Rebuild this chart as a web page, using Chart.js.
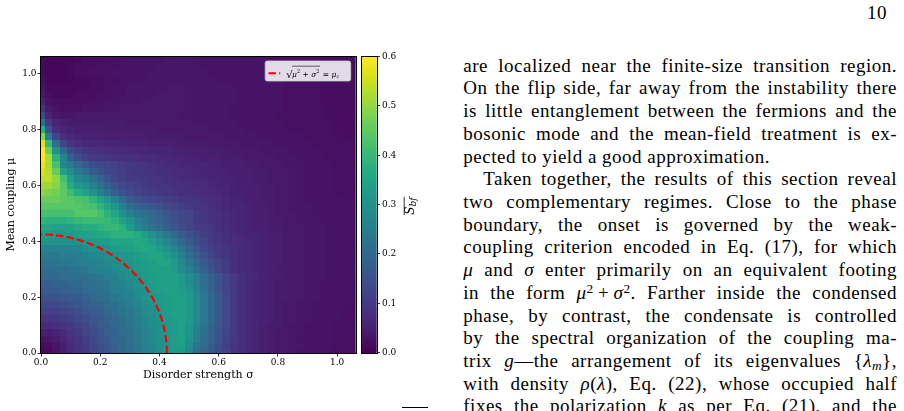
<!DOCTYPE html>
<html>
<head>
<meta charset="utf-8">
<script src="https://cdn.jsdelivr.net/npm/chart.js@4.4.1/dist/chart.umd.min.js"></script>
<style>
html,body{margin:0;padding:0;background:#fff;width:904px;height:411px;overflow:hidden;position:relative}
#heat{position:absolute;left:0;top:0}
#cbar{position:absolute;left:355px;top:0}
.page{position:absolute;left:463.3px;width:433.7px;top:54.7px;font-family:"Liberation Serif",serif;font-size:19px;letter-spacing:0.5px;line-height:22.72px;color:#000}
.page div{text-align:justify;text-align-last:justify;white-space:nowrap}
.page div.last{text-align-last:left}
.page div.ind{padding-left:20px}
.page sup{font-size:0.7em;vertical-align:0.45em;line-height:0}
.page sub{font-size:0.7em;vertical-align:-0.25em;line-height:0}
.pnum{position:absolute;left:867px;top:2.2px;font-family:"Liberation Serif",serif;font-size:19px;letter-spacing:0.5px;line-height:22.72px}
.rule{position:absolute;left:402px;top:407px;width:26px;height:1px;background:#000}
</style>
</head>
<body>
<canvas id="heat" width="360" height="411"></canvas>
<canvas id="cbar" width="75" height="411"></canvas>
<div class="pnum">10</div>
<div class="page" id="page">
<div>are localized near the finite-size transition region.</div>
<div>On the flip side, far away from the instability there</div>
<div>is little entanglement between the fermions and the</div>
<div>bosonic mode and the mean-field treatment is ex-</div>
<div class="last">pected to yield a good approximation.</div>
<div class="ind">Taken together, the results of this section reveal</div>
<div>two complementary regimes. Close to the phase</div>
<div>boundary, the onset is governed by the weak-</div>
<div>coupling criterion encoded in Eq. (17), for which</div>
<div><i>μ</i> and <i>σ</i> enter primarily on an equivalent footing</div>
<div>in the form <i>μ</i><sup>2</sup>&#8201;+&#8201;<i>σ</i><sup>2</sup>. Farther inside the condensed</div>
<div>phase, by contrast, the condensate is controlled</div>
<div>by the spectral organization of the coupling ma-</div>
<div>trix <i>g</i>—the arrangement of its eigenvalues {<i>λ</i><sub><i>m</i></sub>},</div>
<div>with density <i>ρ</i>(<i>λ</i>), Eq. (22), whose occupied half</div>
<div>fixes the polarization <i>k</i> as per Eq. (21), and the</div>
</div>
<div class="rule"></div>
<script>
// shrink the body text only if some line would not fit the column
(function fitText(){
  const page = document.getElementById('page');
  const lines = Array.from(page.children);
  const tooWide = () => lines.some(d => d.scrollWidth > d.clientWidth + 0.5);
  let ls = 0.5, size = 19;
  while (tooWide() && ls > 0) { ls -= 0.05; page.style.letterSpacing = ls + 'px'; }
  while (tooWide() && size > 12) { size -= 0.25; page.style.fontSize = size + 'px'; }
})();

// ---------------- data ----------------
const sigmaValues = [0,.025,.05,.075,.1,.125,.15,.175,.2,.225,.25,.275,.3,.325,.35,.375,.4,.425,.45,.475,.5,.525,.55,.575,.6,.625,.65,.675,.7,.725,.75,.775,.8,.825,.85,.875,.9,.925,.95,.975,1,1.025,1.05];
const muValues = [0,.025,.05,.075,.1,.125,.15,.175,.2,.225,.25,.275,.3,.325,.35,.375,.4,.425,.45,.475,.5,.525,.55,.575,.6,.625,.65,.675,.7,.725,.75,.775,.8,.825,.85,.875,.9,.925,.95,.975,1,1.025,1.05];
// mean boson-fermion entanglement entropy, one row per mu value (columns follow sigmaValues)
const entropyRows = [
[.01,.015,.03,.05,.07,.08,.10,.12,.14,.16,.18,.19,.21,.23,.25,.27,.29,.31,.32,.32,.27,.22,.19,.17,.14,.12,.09,.08,.07,.06,.05,.045,.04,.04,.035,.03,.03,.03,.03,.025,.025,.025,.025],
[.015,.02,.035,.05,.07,.085,.10,.12,.14,.16,.18,.20,.21,.23,.25,.27,.29,.31,.33,.33,.28,.23,.20,.17,.14,.11,.09,.08,.07,.06,.05,.045,.04,.04,.035,.035,.03,.03,.03,.03,.025,.025,.025],
[.03,.035,.045,.06,.08,.09,.11,.13,.15,.17,.19,.20,.22,.24,.26,.28,.30,.31,.33,.34,.30,.25,.21,.18,.15,.12,.10,.08,.07,.06,.05,.045,.04,.04,.035,.03,.03,.03,.03,.03,.025,.025,.025],
[.05,.05,.06,.07,.09,.10,.12,.14,.16,.18,.19,.21,.22,.24,.26,.28,.30,.32,.33,.34,.31,.26,.22,.18,.15,.12,.10,.08,.07,.06,.05,.045,.04,.04,.035,.035,.03,.03,.03,.03,.025,.025,.025],
[.07,.07,.08,.09,.10,.11,.13,.15,.17,.18,.20,.21,.23,.25,.27,.29,.30,.32,.33,.34,.31,.27,.23,.19,.16,.13,.10,.08,.07,.06,.05,.045,.045,.04,.035,.035,.03,.03,.03,.03,.025,.025,.025],
[.09,.09,.095,.10,.11,.13,.14,.16,.17,.19,.20,.22,.24,.25,.27,.29,.31,.32,.33,.34,.32,.28,.24,.20,.16,.13,.10,.08,.07,.06,.055,.05,.045,.04,.04,.035,.035,.03,.03,.03,.03,.025,.025],
[.11,.11,.115,.12,.13,.14,.16,.17,.18,.20,.22,.23,.24,.26,.28,.30,.31,.33,.34,.34,.32,.28,.24,.20,.16,.13,.10,.08,.07,.06,.055,.05,.045,.04,.04,.035,.035,.03,.03,.03,.03,.025,.025],
[.13,.13,.13,.14,.15,.16,.17,.18,.19,.21,.22,.24,.25,.27,.29,.30,.32,.33,.34,.34,.32,.28,.24,.20,.16,.13,.10,.08,.07,.06,.055,.05,.045,.04,.04,.035,.035,.03,.03,.03,.03,.03,.025],
[.15,.15,.15,.16,.17,.17,.18,.20,.21,.22,.24,.25,.26,.28,.30,.31,.32,.33,.34,.34,.32,.28,.24,.20,.16,.13,.10,.08,.07,.06,.055,.05,.045,.045,.04,.04,.035,.035,.03,.03,.03,.03,.03],
[.17,.17,.17,.18,.18,.19,.20,.21,.22,.23,.25,.26,.27,.29,.30,.32,.33,.34,.34,.33,.31,.27,.23,.19,.15,.12,.10,.08,.07,.06,.055,.05,.045,.045,.04,.04,.035,.035,.03,.03,.03,.03,.03],
[.18,.18,.19,.19,.20,.20,.21,.22,.23,.24,.26,.27,.28,.30,.31,.33,.34,.34,.34,.32,.29,.25,.21,.18,.15,.12,.10,.08,.07,.06,.055,.05,.045,.045,.04,.04,.035,.035,.03,.03,.03,.03,.03],
[.20,.20,.20,.21,.21,.22,.22,.23,.24,.25,.26,.28,.29,.30,.32,.33,.34,.34,.34,.32,.29,.25,.21,.18,.15,.12,.10,.08,.07,.065,.055,.05,.05,.045,.04,.04,.035,.035,.035,.03,.03,.03,.03],
[.21,.21,.22,.22,.23,.23,.24,.25,.26,.27,.28,.29,.30,.32,.33,.34,.34,.34,.32,.29,.26,.22,.18,.15,.12,.10,.08,.07,.065,.06,.055,.05,.045,.045,.04,.04,.035,.035,.035,.03,.03,.03,.03],
[.23,.23,.23,.24,.24,.25,.25,.26,.27,.28,.29,.30,.31,.32,.33,.34,.35,.35,.32,.28,.24,.20,.17,.14,.12,.10,.08,.07,.065,.06,.055,.05,.05,.045,.04,.04,.035,.035,.035,.03,.03,.03,.03],
[.24,.24,.24,.25,.25,.25,.26,.27,.28,.29,.30,.31,.32,.33,.34,.35,.35,.33,.30,.26,.21,.18,.15,.12,.10,.09,.08,.07,.065,.06,.055,.05,.05,.045,.04,.04,.035,.035,.035,.03,.03,.03,.03],
[.26,.26,.26,.26,.27,.27,.29,.30,.30,.31,.33,.34,.34,.35,.36,.35,.33,.30,.27,.23,.19,.16,.13,.11,.10,.09,.08,.07,.065,.06,.055,.05,.05,.045,.04,.04,.035,.035,.035,.03,.03,.03,.03],
[.30,.30,.30,.30,.30,.30,.32,.32,.33,.33,.35,.35,.35,.36,.35,.33,.30,.27,.24,.20,.17,.14,.12,.10,.09,.08,.075,.07,.065,.06,.055,.05,.05,.045,.04,.04,.035,.035,.035,.03,.03,.03,.03],
[.33,.33,.32,.32,.33,.34,.34,.35,.36,.37,.38,.38,.38,.37,.33,.30,.27,.24,.20,.17,.15,.13,.11,.10,.09,.08,.07,.065,.06,.06,.055,.05,.05,.045,.04,.04,.035,.035,.035,.03,.03,.03,.03],
[.36,.35,.34,.34,.34,.36,.37,.37,.38,.40,.40,.38,.33,.28,.25,.23,.21,.18,.16,.14,.12,.11,.10,.09,.08,.07,.065,.06,.055,.05,.05,.045,.045,.04,.04,.04,.035,.035,.035,.03,.03,.03,.03],
[.39,.38,.38,.38,.39,.40,.41,.41,.41,.40,.38,.34,.30,.26,.24,.21,.19,.17,.15,.13,.12,.10,.09,.08,.075,.07,.065,.06,.055,.05,.05,.045,.045,.04,.04,.035,.035,.035,.03,.03,.03,.03,.03],
[.42,.42,.42,.42,.42,.44,.44,.44,.42,.38,.35,.30,.26,.23,.22,.20,.18,.16,.14,.13,.12,.10,.09,.08,.075,.07,.065,.06,.055,.05,.05,.045,.04,.04,.04,.035,.035,.03,.03,.03,.03,.03,.03],
[.44,.44,.44,.44,.44,.44,.43,.42,.39,.35,.31,.26,.22,.19,.18,.16,.15,.13,.12,.11,.10,.09,.085,.08,.07,.065,.06,.06,.055,.05,.05,.045,.04,.04,.035,.035,.035,.03,.03,.03,.03,.03,.03],
[.46,.46,.46,.45,.44,.43,.42,.39,.35,.31,.26,.21,.17,.15,.14,.13,.12,.11,.10,.095,.09,.085,.08,.075,.07,.065,.06,.055,.05,.05,.045,.045,.04,.04,.035,.035,.03,.03,.03,.03,.03,.03,.025],
[.49,.48,.47,.45,.41,.37,.34,.30,.26,.22,.18,.15,.13,.12,.11,.10,.095,.09,.085,.08,.08,.075,.07,.07,.065,.06,.055,.055,.05,.05,.045,.045,.04,.04,.035,.035,.03,.03,.03,.03,.025,.025,.025],
[.51,.51,.49,.44,.37,.32,.30,.26,.22,.18,.15,.13,.12,.11,.10,.095,.09,.085,.08,.075,.075,.07,.07,.065,.06,.06,.055,.05,.05,.05,.045,.045,.04,.04,.035,.035,.03,.03,.03,.03,.025,.025,.025],
[.54,.54,.50,.42,.34,.28,.26,.22,.19,.15,.12,.11,.10,.10,.095,.09,.085,.08,.075,.07,.07,.065,.065,.06,.06,.055,.055,.05,.05,.045,.045,.04,.04,.04,.035,.035,.03,.03,.03,.03,.025,.025,.025],
[.56,.53,.46,.34,.29,.24,.21,.17,.15,.13,.12,.11,.10,.095,.09,.085,.08,.075,.07,.07,.065,.065,.06,.06,.055,.055,.05,.05,.05,.045,.045,.04,.04,.04,.035,.035,.03,.03,.03,.03,.025,.025,.025],
[.58,.52,.42,.27,.24,.20,.17,.14,.13,.12,.11,.10,.095,.09,.085,.08,.075,.07,.07,.065,.065,.06,.06,.055,.055,.05,.05,.05,.045,.045,.04,.04,.04,.035,.035,.035,.03,.03,.03,.03,.025,.025,.025],
[.60,.52,.38,.27,.18,.14,.11,.10,.095,.09,.085,.08,.08,.075,.07,.07,.065,.065,.06,.06,.055,.055,.05,.05,.05,.045,.045,.045,.04,.04,.04,.04,.035,.035,.035,.03,.03,.03,.03,.025,.025,.025,.025],
[.60,.47,.30,.20,.14,.11,.09,.085,.08,.075,.075,.07,.07,.065,.065,.06,.06,.06,.055,.055,.05,.05,.05,.045,.045,.045,.04,.04,.04,.04,.035,.035,.035,.035,.03,.03,.03,.03,.025,.025,.025,.025,.025],
[.57,.40,.22,.12,.09,.075,.07,.065,.065,.06,.06,.06,.055,.055,.055,.05,.05,.05,.05,.045,.045,.045,.045,.04,.04,.04,.04,.035,.035,.035,.035,.035,.03,.03,.03,.03,.03,.025,.025,.025,.025,.025,.025],
[.48,.25,.12,.08,.065,.06,.055,.055,.055,.05,.05,.05,.05,.05,.05,.045,.045,.045,.045,.045,.04,.04,.04,.04,.04,.035,.035,.035,.035,.035,.03,.03,.03,.03,.03,.03,.025,.025,.025,.025,.025,.02,.02],
[.37,.15,.075,.06,.055,.05,.05,.05,.05,.045,.045,.045,.045,.045,.045,.045,.04,.04,.04,.04,.04,.04,.04,.035,.035,.035,.035,.035,.03,.03,.03,.03,.03,.03,.025,.025,.025,.025,.025,.025,.02,.02,.02],
[.22,.10,.06,.05,.045,.045,.045,.045,.045,.045,.045,.045,.04,.04,.04,.04,.04,.04,.04,.04,.04,.035,.035,.035,.035,.035,.035,.03,.03,.03,.03,.03,.03,.025,.025,.025,.025,.025,.025,.025,.02,.02,.02],
[.13,.06,.04,.035,.035,.04,.04,.04,.04,.04,.04,.04,.04,.04,.04,.04,.04,.04,.04,.035,.035,.035,.035,.035,.035,.035,.03,.03,.03,.03,.03,.03,.025,.025,.025,.025,.025,.025,.025,.02,.02,.02,.02],
[.09,.04,.03,.025,.025,.025,.03,.03,.03,.035,.035,.04,.04,.04,.04,.04,.04,.04,.04,.04,.035,.035,.035,.035,.035,.035,.03,.03,.03,.03,.03,.03,.03,.025,.025,.025,.025,.025,.025,.02,.02,.02,.02],
[.06,.03,.02,.02,.02,.02,.025,.025,.025,.03,.03,.035,.035,.035,.04,.04,.04,.04,.04,.04,.035,.035,.035,.035,.035,.035,.035,.03,.03,.03,.03,.03,.03,.025,.025,.025,.025,.025,.02,.02,.02,.02,.02],
[.04,.02,.015,.015,.015,.02,.02,.02,.025,.025,.03,.03,.035,.035,.035,.035,.04,.04,.04,.04,.035,.035,.035,.035,.035,.035,.035,.03,.03,.03,.03,.03,.03,.025,.025,.025,.025,.025,.02,.02,.02,.02,.02],
[.03,.015,.015,.015,.015,.015,.015,.02,.02,.025,.03,.03,.035,.035,.035,.035,.035,.035,.04,.04,.035,.035,.035,.035,.035,.035,.03,.03,.03,.03,.03,.03,.03,.025,.025,.025,.025,.025,.02,.02,.02,.02,.02],
[.02,.01,.01,.01,.01,.015,.015,.02,.02,.025,.025,.03,.03,.03,.03,.035,.035,.035,.035,.035,.035,.035,.035,.035,.03,.03,.03,.03,.03,.03,.03,.03,.03,.025,.025,.025,.025,.025,.02,.02,.02,.02,.02],
[.015,.01,.01,.01,.015,.02,.02,.025,.025,.025,.03,.03,.03,.03,.03,.035,.035,.035,.035,.035,.035,.035,.035,.03,.03,.03,.03,.03,.03,.03,.03,.03,.03,.025,.025,.025,.025,.025,.02,.02,.02,.02,.02],
[.01,.01,.01,.01,.015,.02,.02,.02,.025,.025,.025,.03,.03,.03,.03,.03,.035,.035,.035,.035,.035,.035,.03,.03,.03,.03,.03,.03,.03,.03,.03,.03,.025,.025,.025,.025,.025,.025,.02,.02,.02,.02,.02],
[.01,.01,.01,.01,.01,.015,.02,.02,.02,.025,.025,.025,.03,.03,.03,.03,.03,.035,.035,.035,.035,.03,.03,.03,.03,.03,.03,.03,.03,.03,.03,.025,.025,.025,.025,.025,.025,.025,.02,.02,.02,.02,.02]
];
const axisTicks = [0, 0.2, 0.4, 0.6, 0.8, 1.0];
const colorbarTicks = [0, 0.1, 0.2, 0.3, 0.4, 0.5, 0.6];
const criticalCoupling = 0.425;           // mu_c of the dashed boundary
const circleAnglesDeg = Array.from({length: 91}, (_, k) => k);

// ---------------- colour map ----------------
const VIRIDIS = ['#440154','#48186a','#472d7b','#424086','#3b528b','#33638d','#2c728e','#26828e','#21918c','#1fa088','#28ae80','#3fbc73','#5ec962','#84d44b','#addc30','#d8e219','#fde725'];
const VRGB = VIRIDIS.map(h => [parseInt(h.slice(1,3),16), parseInt(h.slice(3,5),16), parseInt(h.slice(5,7),16)]);
function viridis(t){
  t = Math.min(1, Math.max(0, t));
  const s = t * (VRGB.length - 1);
  const i = Math.min(VRGB.length - 2, Math.floor(s));
  const f = s - i, a = VRGB[i], b = VRGB[i+1];
  return 'rgb(' + Math.round(a[0]+(b[0]-a[0])*f) + ',' + Math.round(a[1]+(b[1]-a[1])*f) + ',' + Math.round(a[2]+(b[2]-a[2])*f) + ')';
}
const cMin = colorbarTicks[0], cMax = colorbarTicks[colorbarTicks.length-1];

// ---------------- heat map ----------------
const cellPoints = [];
muValues.forEach((mu, i) => sigmaValues.forEach((s, j) => cellPoints.push({x: s, y: mu, v: entropyRows[i][j]})));
const circlePoints = circleAnglesDeg.map(a => ({
  x: criticalCoupling * Math.cos(a * Math.PI / 180),
  y: criticalCoupling * Math.sin(a * Math.PI / 180)
}));
const halfDx = (sigmaValues[1] - sigmaValues[0]) / 2;
const halfDy = (muValues[1] - muValues[0]) / 2;
const axisMax = sigmaValues[sigmaValues.length-1] + halfDx;

const SERIF = '"DejaVu Serif", serif';

const heatPlugin = {
  id: 'heatCells',
  beforeDatasetsDraw(chart) {
    const {ctx, chartArea: a, scales: {x, y}} = chart;
    ctx.save();
    ctx.beginPath(); ctx.rect(a.left, a.top, a.right - a.left, a.bottom - a.top); ctx.clip();
    chart.data.datasets[0].data.forEach(p => {
      const x0 = Math.round(x.getPixelForValue(p.x - halfDx));
      const x1 = Math.round(x.getPixelForValue(p.x + halfDx));
      const y0 = Math.round(y.getPixelForValue(p.y + halfDy));
      const y1 = Math.round(y.getPixelForValue(p.y - halfDy));
      ctx.fillStyle = viridis((p.v - cMin) / (cMax - cMin));
      ctx.fillRect(x0, y0, x1 - x0, y1 - y0);
    });
    ctx.restore();
  },
  afterDatasetsDraw(chart) {
    const {ctx, chartArea: a} = chart;
    ctx.save();
    // frame
    ctx.strokeStyle = '#000'; ctx.lineWidth = 1;
    ctx.strokeRect(Math.round(a.left) - 0.5, Math.round(a.top) - 0.5, Math.round(a.right) - Math.round(a.left) + 1, Math.round(a.bottom) - Math.round(a.top) + 1);
    // legend box
    const bx = a.right - 90.5, by = a.top + 4.5, bw = 85.5, bh = 20;
    ctx.beginPath();
    ctx.roundRect(bx, by, bw, bh, 2);
    ctx.fillStyle = 'rgba(255,255,255,0.85)'; ctx.fill();
    ctx.strokeStyle = '#cccccc'; ctx.lineWidth = 0.8; ctx.stroke();
    // handle
    const ly = by + 12.3;
    ctx.beginPath(); ctx.setLineDash([7.4, 3.2]);
    ctx.moveTo(bx + 3.3, ly); ctx.lineTo(bx + 15, ly);
    ctx.strokeStyle = '#ff0000'; ctx.lineWidth = 2; ctx.stroke();
    ctx.setLineDash([]);
    // label  sqrt(mu^2 + sigma^2) = mu_c
    ctx.fillStyle = '#000'; ctx.textBaseline = 'alphabetic';
    let tx = bx + 21; const base = by + 15.5;
    ctx.font = '10px "DejaVu Sans"'; ctx.fillText('√', tx, base + 1); tx += ctx.measureText('√').width - 0.5;
    const ovStart = tx;
    const runs = [
      ['italic 7.5px ' + SERIF, 'μ', 0], ['5px ' + SERIF, '2', -3.2], ['7.5px ' + SERIF, ' + ', 0],
      ['italic 7.5px ' + SERIF, 'σ', 0], ['5px ' + SERIF, '2', -3.2]
    ];
    runs.forEach(r => { ctx.font = r[0]; ctx.fillText(r[1], tx, base + r[2]); tx += ctx.measureText(r[1]).width; });
    const ovEnd = tx + 0.5;
    ctx.beginPath(); ctx.moveTo(ovStart, by + 5.2); ctx.lineTo(ovEnd, by + 5.2); ctx.lineWidth = 0.6; ctx.strokeStyle = '#000'; ctx.stroke();
    const runs2 = [['7.5px ' + SERIF, ' = ', 0], ['italic 7.5px ' + SERIF, 'μ', 0], ['italic 5px ' + SERIF, 'c', 1.5]];
    tx += 1;
    runs2.forEach(r => { ctx.font = r[0]; ctx.fillText(r[1], tx, base + r[2]); tx += ctx.measureText(r[1]).width; });
    ctx.restore();
  }
};

function axisCfg(title, isX) {
  return {
    type: 'linear', min: 0, max: axisMax,
    afterBuildTicks: s => { s.ticks = axisTicks.map(v => ({value: v})); },
    ticks: {color: '#000', font: {family: SERIF, size: 9}, padding: 1, maxRotation: 0, callback: v => Number(v).toFixed(1)},
    grid: {display: true, drawOnChartArea: false, drawTicks: true, tickLength: 3.5, tickColor: '#000', tickWidth: 0.8},
    border: {display: false},
    title: {display: true, text: title, color: '#000', font: {family: SERIF, size: 11}, padding: isX ? {top: 0, bottom: 3} : {top: 5, bottom: 0}},
    afterFit: s => { if (isX) s.height = 32; else s.width = 41; }
  };
}

new Chart(document.getElementById('heat'), {
  type: 'scatter',
  data: {datasets: [
    {label: 'cells', data: cellPoints, pointRadius: 0, pointHoverRadius: 0},
    {label: 'critical', data: circlePoints, showLine: true, borderColor: '#ff0000', borderWidth: 2.2,
     borderDash: [7.4, 3.2], pointRadius: 0, fill: false, tension: 0}
  ]},
  options: {
    responsive: false, animation: false, devicePixelRatio: 1, events: [],
    layout: {padding: {left: 0, top: 56.5, right: 4.3, bottom: 26}},
    plugins: {legend: {display: false}, tooltip: {enabled: false}},
    scales: {x: axisCfg('Disorder strength σ', true), y: axisCfg('Mean coupling μ', false)}
  },
  plugins: [heatPlugin]
});

// ---------------- colour bar ----------------
const cbarPlugin = {
  id: 'cbarFill',
  beforeDatasetsDraw(chart) {
    const {ctx, chartArea: a, scales: {y}} = chart;
    const steps = 300;
    ctx.save();
    for (let k = 0; k < steps; k++) {
      const v0 = cMin + (cMax - cMin) * k / steps, v1 = cMin + (cMax - cMin) * (k + 1) / steps;
      const p0 = Math.floor(y.getPixelForValue(v1)), p1 = Math.ceil(y.getPixelForValue(v0));
      ctx.fillStyle = viridis((k + 0.5) / steps);
      ctx.fillRect(a.left, p0, a.right - a.left, p1 - p0);
    }
    ctx.strokeStyle = '#000'; ctx.lineWidth = 1;
    ctx.strokeRect(Math.round(a.left) - 0.5, Math.round(a.top) - 0.5, Math.round(a.right) - Math.round(a.left) + 1, Math.round(a.bottom) - Math.round(a.top) + 1);
    ctx.restore();
  },
  afterDraw(chart) {
    const {ctx} = chart;
    ctx.save();
    ctx.translate(409 - 355, 206);
    ctx.rotate(-Math.PI / 2);
    ctx.fillStyle = '#000'; ctx.textBaseline = 'alphabetic';
    ctx.font = 'italic 12px ' + SERIF;
    const wS = ctx.measureText('S').width;
    ctx.font = 'italic 9px ' + SERIF;
    const wB = ctx.measureText('bf').width;
    const total = wS + wB;
    let tx = -total / 2;
    ctx.font = 'italic 12px ' + SERIF; ctx.fillText('S', tx, 4.5); tx += wS;
    ctx.font = 'italic 9px ' + SERIF; ctx.fillText('bf', tx, 7);
    ctx.beginPath(); ctx.moveTo(-total / 2 - 0.5, -4.8); ctx.lineTo(total / 2 + 0.5, -4.8);
    ctx.lineWidth = 0.8; ctx.strokeStyle = '#000'; ctx.stroke();
    ctx.restore();
  }
};

new Chart(document.getElementById('cbar'), {
  type: 'scatter',
  data: {datasets: [{data: [], pointRadius: 0}]},
  options: {
    responsive: false, animation: false, devicePixelRatio: 1, events: [],
    layout: {padding: {left: 6.5, top: 56.5, right: 0, bottom: 58.5}},
    plugins: {legend: {display: false}, tooltip: {enabled: false}},
    scales: {
      x: {display: false, min: 0, max: 1},
      y: {
        position: 'right', min: cMin, max: cMax,
        afterBuildTicks: s => { s.ticks = colorbarTicks.map(v => ({value: v})); },
        ticks: {color: '#000', font: {family: SERIF, size: 9}, padding: 2, callback: v => Number(v).toFixed(1)},
        grid: {display: true, drawOnChartArea: false, drawTicks: true, tickLength: 3.5, tickColor: '#000', tickWidth: 0.8},
        border: {display: false},
        afterFit: s => { s.width = 53.5; }
      }
    }
  },
  plugins: [cbarPlugin]
});
</script>
</body>
</html>
